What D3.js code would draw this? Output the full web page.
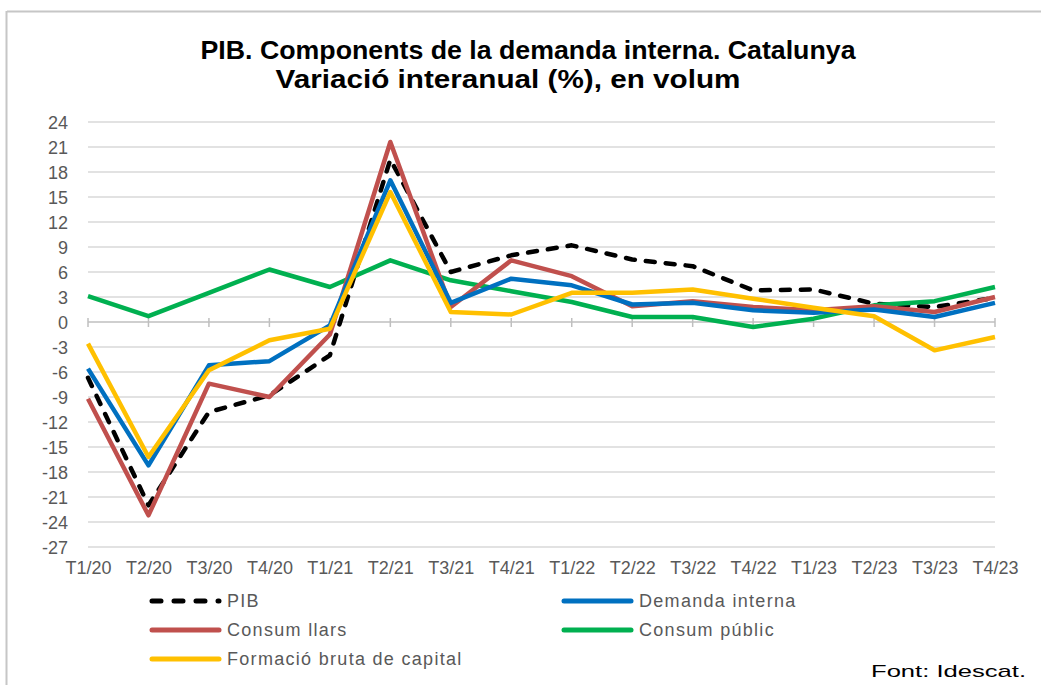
<!DOCTYPE html>
<html>
<head>
<meta charset="utf-8">
<script src="https://cdn.jsdelivr.net/npm/d3@7"></script>
<style>
  html, body { margin: 0; padding: 0; background: #fff; }
  svg { display: block; font-family: "Liberation Sans", Arial, sans-serif; }
</style>
</head>
<body>
<svg id="chart" width="1041" height="685"></svg>
<script>
// quarters on the x axis
const quarters = ['T1/20','T2/20','T3/20','T4/20','T1/21','T2/21','T3/21','T4/21',
                  'T1/22','T2/22','T3/22','T4/22','T1/23','T2/23','T3/23','T4/23'];

// year-on-year change (%)
const pib        = [-6.7, -22.0, -10.8, -8.8, -4.0, 19.5, 6.0, 8.0, 9.2, 7.5, 6.7, 3.8, 3.9, 2.2, 1.8, 2.9];
const demanda    = [-5.6, -17.2, -5.2, -4.7, -0.4, 17.0, 2.3, 5.2, 4.4, 2.1, 2.3, 1.4, 1.1, 1.5, 0.6, 2.3];
const llars      = [-9.2, -23.2, -7.4, -9.0, -1.5, 21.6, 1.8, 7.4, 5.5, 1.9, 2.5, 1.8, 1.4, 1.9, 1.2, 3.0];
const public_    = [3.1, 0.7, 3.5, 6.3, 4.2, 7.4, 5.0, 3.7, 2.4, 0.6, 0.6, -0.6, 0.4, 2.0, 2.5, 4.2];
const capital    = [-2.6, -16.2, -5.8, -2.2, -0.8, 15.6, 1.2, 0.9, 3.5, 3.5, 3.9, 2.8, 1.7, 0.7, -3.4, -1.8];

const yTicks = d3.range(-27, 25, 3);

// drawing order: yellow ends on top like the reference
const series = [
  { name: 'PIB', values: pib, color: '#000000', dash: true },
  { name: 'Consum públic', values: public_, color: '#00B050' },
  { name: 'Consum llars', values: llars, color: '#C0504D' },
  { name: 'Demanda interna', values: demanda, color: '#0070C0' },
  { name: 'Formació bruta de capital', values: capital, color: '#FFC000' }
];
const legendOrder = ['PIB', 'Demanda interna', 'Consum llars', 'Consum públic', 'Formació bruta de capital'];

const svg = d3.select('#chart');
const W = 1041, H = 685;
const plot = { left: 88, right: 995, top: 122, bottom: 547 };

// chart frame (only top and left edges are visible in the crop)
svg.append('line').attr('x1', 7).attr('x2', W).attr('y1', 11.5).attr('y2', 11.5)
  .attr('stroke', '#c6c6c6').attr('stroke-width', 2);
svg.append('line').attr('x1', 6.5).attr('x2', 6.5).attr('y1', 11).attr('y2', H)
  .attr('stroke', '#c6c6c6').attr('stroke-width', 2);

// title (condensed, like the Excel rendering)
const title = svg.append('g').attr('font-weight', 'bold').attr('font-size', 25)
  .attr('fill', '#000').attr('text-anchor', 'middle');
title.append('text').attr('x', 528).attr('y', 59)
  .attr('textLength', 655).attr('lengthAdjust', 'spacingAndGlyphs')
  .text('PIB. Components de la demanda interna. Catalunya');
title.append('text').attr('x', 508).attr('y', 88)
  .attr('textLength', 465).attr('lengthAdjust', 'spacingAndGlyphs')
  .text('Variació interanual (%), en volum');

const x = d3.scalePoint().domain(quarters).range([plot.left, plot.right]);
const y = d3.scaleLinear().domain([-27, 24]).range([plot.bottom, plot.top]);

// gridlines
svg.append('g').selectAll('line').data(yTicks.filter(d => d !== 0)).join('line')
  .attr('x1', plot.left).attr('x2', plot.right)
  .attr('y1', d => y(d)).attr('y2', d => y(d))
  .attr('stroke', '#d9d9d9').attr('stroke-width', 1.5);

// y axis labels (plain hyphen minus as in the source)
const yAxis = svg.append('g').attr('transform', `translate(${plot.left - 20},0)`)
  .call(d3.axisLeft(y).tickValues(yTicks).tickSize(0).tickPadding(0).tickFormat(d => String(d)));
yAxis.select('.domain').remove();
yAxis.selectAll('text').attr('font-size', 18).attr('fill', '#595959')
  .attr('font-family', '"Liberation Sans", Arial, sans-serif').attr('dy', '0.34em');

// zero axis with cross ticks
const zero = svg.append('g').attr('transform', `translate(0,${y(0)})`);
zero.append('line').attr('x1', plot.left).attr('x2', plot.right).attr('stroke', '#bfbfbf').attr('stroke-width', 1.5);
zero.selectAll('line.tick').data(quarters).join('line').attr('class', 'tick')
  .attr('x1', d => x(d)).attr('x2', d => x(d)).attr('y1', -4).attr('y2', 5)
  .attr('stroke', '#bfbfbf').attr('stroke-width', 1.5);

// x labels at the bottom
const xAxis = svg.append('g').attr('transform', `translate(0,${plot.bottom})`)
  .call(d3.axisBottom(x).tickSize(0).tickPadding(14));
xAxis.select('.domain').remove();
xAxis.selectAll('text').attr('font-size', 18).attr('fill', '#595959')
  .attr('font-family', '"Liberation Sans", Arial, sans-serif');

// lines
const line = d3.line().x((d, i) => x(quarters[i])).y(d => y(d));
svg.append('g').selectAll('path').data(series).join('path')
  .attr('d', d => line(d.values))
  .attr('fill', 'none')
  .attr('stroke', d => d.color)
  .attr('stroke-width', 4.5)
  .attr('stroke-linejoin', 'round')
  .attr('stroke-linecap', d => d.dash ? 'round' : 'butt')
  .attr('stroke-dasharray', d => d.dash ? '9,11' : null);

// legend
const legendPos = [[150, 601], [562, 601], [150, 630], [562, 630], [150, 659]];
const legend = svg.append('g').selectAll('g')
  .data(legendOrder.map(n => series.find(s => s.name === n))).join('g')
  .attr('transform', (d, i) => `translate(${legendPos[i][0]},${legendPos[i][1]})`);
legend.append('line').attr('x1', 2).attr('x2', 69)
  .attr('stroke', d => d.color).attr('stroke-width', 5)
  .attr('stroke-linecap', 'round')
  .attr('stroke-dasharray', d => d.dash ? '9,13' : null);
legend.append('text').attr('x', 77).attr('dy', '0.35em')
  .attr('font-size', 18).attr('letter-spacing', 1.3).attr('fill', '#595959')
  .text(d => d.name);

// source
svg.append('text').attr('x', 1026).attr('y', 677).attr('text-anchor', 'end')
  .attr('font-size', 17).attr('fill', '#000')
  .attr('textLength', 155).attr('lengthAdjust', 'spacingAndGlyphs')
  .text('Font: Idescat.');
</script>
</body>
</html>
